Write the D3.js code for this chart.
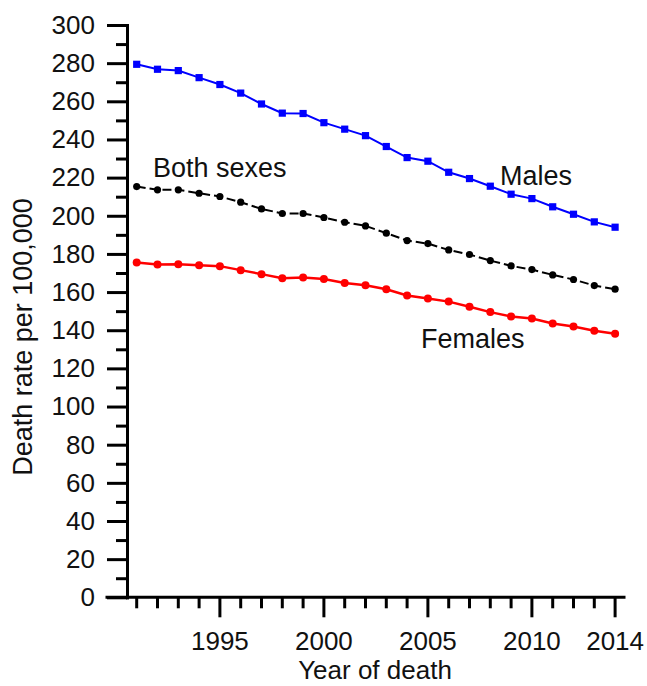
<!DOCTYPE html>
<html>
<head>
<meta charset="utf-8">
<script src="https://cdn.jsdelivr.net/npm/d3@7"></script>
<style>
  html, body { margin: 0; padding: 0; background: #fff; }
  svg { display: block; font-family: "Liberation Sans", Arial, sans-serif; }
</style>
</head>
<body>
<svg id="chart" width="647" height="686"></svg>
<script>
const years = d3.range(1991, 2015);
const males = [279.4, 276.8, 276.1, 272.4, 268.8, 264.3, 258.6, 253.8, 253.6, 248.8, 245.4, 242.0,
               236.3, 230.5, 228.6, 222.8, 219.5, 215.5, 211.3, 209.0, 204.7, 200.8, 196.8, 194.0];
const bothSexes = [215.3, 213.6, 213.6, 211.8, 210.1, 207.1, 203.6, 201.2, 201.2, 199.1, 196.6, 194.7,
                   190.9, 187.0, 185.4, 182.1, 179.7, 176.5, 173.7, 171.8, 169.0, 166.6, 163.4, 161.5];
const females = [175.5, 174.4, 174.6, 174.1, 173.6, 171.5, 169.4, 167.3, 167.6, 166.9, 164.8, 163.6,
                 161.5, 158.2, 156.6, 155.0, 152.3, 149.5, 147.2, 146.1, 143.5, 141.9, 139.7, 138.1];
const xMajorTicks = [1995, 2000, 2005, 2010, 2014];
const yMajorTicks = d3.range(0, 301, 20);
const yMinorTicks = d3.range(10, 300, 20);
const seriesLabels = ["Males", "Both sexes", "Females"];
const xTitle = "Year of death";
const yTitle = "Death rate per 100,000";

const svg = d3.select("#chart");
const x = d3.scaleLinear().domain([1989.5, 2014.5]).range([105.5, 625.5]);
const y = d3.scaleLinear().domain([0, 300]).range([597.3, 25]);
const yAxisX = 127;

// X axis
const xg = svg.append("g").attr("transform", `translate(0,${y(0)})`);
xg.append("line").attr("x1", x.range()[0]).attr("x2", x.range()[1])
  .attr("stroke", "#000").attr("stroke-width", 3);
const xMinor = years.filter(v => !xMajorTicks.includes(v));
xg.selectAll(".xminor").data(xMinor).join("line")
  .attr("x1", d => x(d)).attr("x2", d => x(d)).attr("y1", 0).attr("y2", 11)
  .attr("stroke", "#000").attr("stroke-width", 3);
xg.selectAll(".xmajor").data(xMajorTicks).join("line")
  .attr("x1", d => x(d)).attr("x2", d => x(d)).attr("y1", 0).attr("y2", 20)
  .attr("stroke", "#000").attr("stroke-width", 3);
xg.selectAll(".xlab").data(xMajorTicks).join("text")
  .attr("x", d => x(d)).attr("y", 53).attr("text-anchor", "middle")
  .attr("font-size", 26).attr("fill", "#111").text(d => d);

// Y axis
const yAxisMajor = d3.axisLeft(y).tickValues(yMajorTicks).tickSize(20).tickSizeOuter(0).tickPadding(12);
const yAxisMinor = d3.axisLeft(y).tickValues(yMinorTicks).tickSize(11).tickSizeOuter(0).tickFormat("");
const yg = svg.append("g").attr("transform", `translate(${yAxisX},0)`).call(yAxisMajor);
const yg2 = svg.append("g").attr("transform", `translate(${yAxisX},0)`).call(yAxisMinor);
[yg, yg2].forEach(g => {
  g.select(".domain").attr("stroke", "#000").attr("stroke-width", 3);
  g.selectAll(".tick line").attr("stroke", "#000").attr("stroke-width", 3);
});
yg.selectAll(".tick text").attr("font-size", 26).attr("fill", "#111")
  .attr("font-family", "'Liberation Sans', Arial, sans-serif");
svg.selectAll(".domain").attr("stroke-linecap", "square");

// Titles
svg.append("text").attr("x", 375).attr("y", 679).attr("text-anchor", "middle")
  .attr("font-size", 26).attr("fill", "#111").text(xTitle);
svg.append("text").attr("transform", `translate(32,337) rotate(-90)`).attr("text-anchor", "middle")
  .attr("font-size", 27).attr("fill", "#111").text(yTitle);

// Lines
const line = vals => d3.line().x((d, i) => x(years[i])).y(d => y(d))(vals);

svg.append("path").attr("d", line(females)).attr("fill", "none")
  .attr("stroke", "#ff0000").attr("stroke-width", 2.5);
svg.selectAll(".fpt").data(females).join("circle")
  .attr("cx", (d, i) => x(years[i])).attr("cy", d => y(d)).attr("r", 4).attr("fill", "#ff0000");

svg.append("path").attr("d", line(bothSexes)).attr("fill", "none")
  .attr("stroke", "#000").attr("stroke-width", 2).attr("stroke-dasharray", "9,4");
svg.selectAll(".bpt").data(bothSexes).join("circle")
  .attr("cx", (d, i) => x(years[i])).attr("cy", d => y(d)).attr("r", 3.6).attr("fill", "#000");

svg.append("path").attr("d", line(males)).attr("fill", "none")
  .attr("stroke", "#0000ff").attr("stroke-width", 2);
svg.selectAll(".mpt").data(males).join("rect")
  .attr("x", (d, i) => x(years[i]) - 3.6).attr("y", d => y(d) - 3.6)
  .attr("width", 7.2).attr("height", 7.2).attr("fill", "#0000ff");

// Annotations
svg.append("text").attr("x", 500).attr("y", 185).attr("font-size", 27).attr("fill", "#111").text(seriesLabels[0]);
svg.append("text").attr("x", 153).attr("y", 177).attr("font-size", 27).attr("fill", "#111").text(seriesLabels[1]);
svg.append("text").attr("x", 421).attr("y", 348).attr("font-size", 27).attr("fill", "#111").text(seriesLabels[2]);
</script>
</body>
</html>
